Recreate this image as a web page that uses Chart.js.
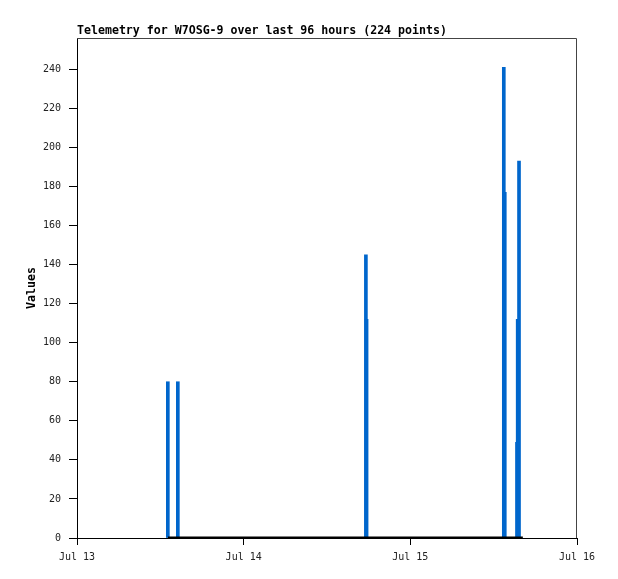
<!DOCTYPE html>
<html>
<head>
<meta charset="utf-8">
<script src="https://cdn.jsdelivr.net/npm/chart.js@4.4.0/dist/chart.umd.min.js"></script>
<style>
  html, body { margin: 0; padding: 0; background: #fff; }
  #wrap { width: 618px; height: 579px; }
</style>
</head>
<body>
<div id="wrap"><canvas id="chartTelemetry"></canvas></div>
<script>
// hours since Jul 13 00:00
const spikeHours = [13.08, 14.52, 41.6, 41.7, 61.46, 61.6, 63.36, 63.46, 63.65];
const spikeValues = [80, 80, 145, 112, 241, 177, 49, 112, 193];
// zero readings span (first point .. last point)
const baseHours = [13.08, 64.2];
const baseValues = [0, 0];
const dayTicks = [0, 24, 48, 72];
const dayLabels = ['Jul 13', 'Jul 14', 'Jul 15', 'Jul 16'];
const chartTitle = 'Telemetry for W7OSG-9 over last 96 hours (224 points)';

const mono = "'DejaVu Sans Mono', 'Liberation Mono', monospace";

// title + top/right frame
const framePlugin = {
  id: 'frame',
  afterDraw(chart) {
    const ctx = chart.ctx;
    const a = chart.chartArea;
    ctx.save();
    ctx.strokeStyle = '#444';
    ctx.lineWidth = 1;
    ctx.beginPath();
    ctx.moveTo(a.left, a.top + 0.5);
    ctx.lineTo(a.right - 0.5, a.top + 0.5);
    ctx.lineTo(a.right - 0.5, a.bottom);
    ctx.stroke();
    ctx.fillStyle = '#000';
    ctx.font = 'bold 11.6px ' + mono;
    ctx.textBaseline = 'alphabetic';
    ctx.fillText(chartTitle, a.left, 34);
    ctx.restore();
  }
};

const ctx = document.getElementById('chartTelemetry').getContext('2d');
const chartTelemetry = new Chart(ctx, {
  type: 'bar',
  data: {
    datasets: [
      {
        type: 'line',
        label: 'zero',
        data: baseHours.map((h, i) => ({ x: h, y: baseValues[i] })),
        borderColor: '#000',
        borderWidth: 3,
        pointRadius: 0,
        order: 0,
      },
      {
        label: 'Values',
        data: spikeHours.map((h, i) => ({ x: h, y: spikeValues[i] })),
        backgroundColor: '#0066cc',
        borderWidth: 0,
        barThickness: 3,
        order: 1,
      },
    ],
  },
  options: {
    responsive: true,
    maintainAspectRatio: false,
    animation: false,
    layout: { padding: { top: 38, right: 41, bottom: 0, left: 0 } },
    plugins: {
      legend: { display: false },
      tooltip: { enabled: false },
    },
    scales: {
      x: {
        type: 'linear',
        min: 0,
        max: 72,
        offset: false,
        afterBuildTicks: (s) => { s.ticks = dayTicks.map((v) => ({ value: v })); },
        afterFit: (s) => { s.height = 41; },
        ticks: {
          callback: (v) => dayLabels[dayTicks.indexOf(v)],
          font: { family: mono, size: 10 },
          color: '#222',
          padding: 6,
          maxRotation: 0,
        },
        grid: { drawOnChartArea: false, offset: false, tickLength: 7, color: '#000' },
        border: { color: '#000', width: 1 },
      },
      y: {
        min: 0,
        max: 256,
        afterBuildTicks: (s) => { s.ticks = s.ticks.filter((t) => t.value % 20 === 0); },
        afterFit: (s) => { s.width = 77; },
        ticks: {
          stepSize: 20,
          font: { family: mono, size: 10 },
          color: '#222',
          padding: 8,
        },
        grid: { drawOnChartArea: false, tickLength: 8, color: '#000' },
        border: { color: '#000', width: 1 },
        title: {
          display: true,
          text: 'Values',
          font: { family: mono, size: 11.6, weight: 'bold' },
          color: '#000',
          padding: { top: 25, bottom: 0 },
        },
      },
    },
  },
  plugins: [framePlugin],
});
</script>
</body>
</html>
